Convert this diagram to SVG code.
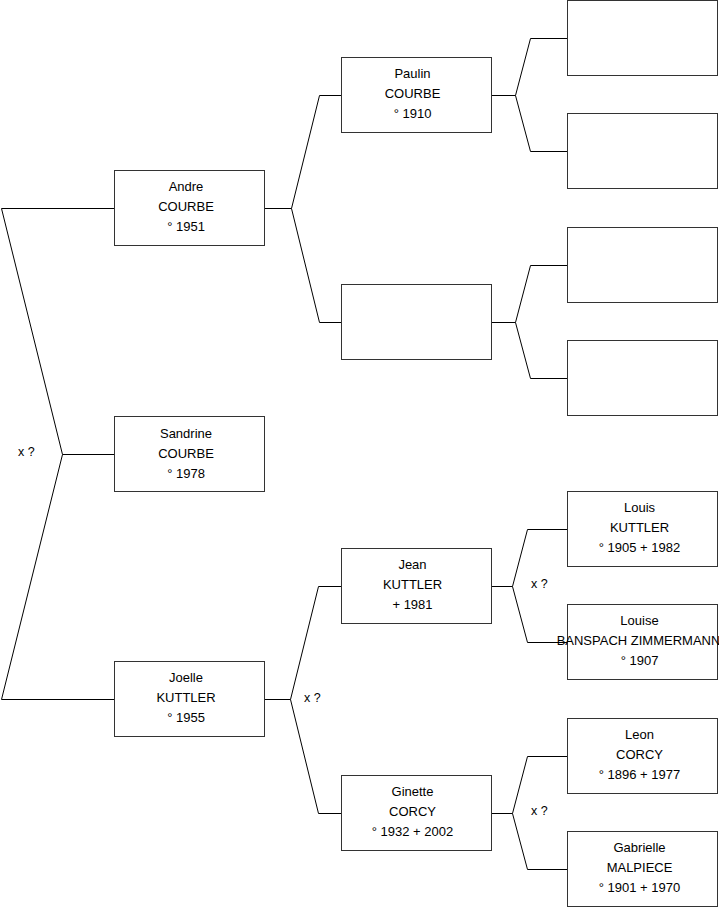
<svg xmlns="http://www.w3.org/2000/svg" width="719" height="908" viewBox="0 0 719 908">
<style>
.box{fill:#fff;stroke:#333;stroke-width:1}
.ln{fill:none;stroke:#000;stroke-width:1}
text{font-family:"Liberation Sans",Arial,sans-serif;font-size:13px;fill:#000;text-anchor:middle}
.lbl{text-anchor:start;font-size:12.5px}
</style>
<rect width="719" height="908" fill="#fff"/>
<g id="connectors">
<polyline class="ln" points="114,208.5 1.5,208.5 62.5,454.5 1.5,699.5 114,699.5"/>
<line class="ln" x1="62.5" y1="454.5" x2="114" y2="454.5"/>
<text class="lbl" x="18" y="456">x ?</text>
<polyline class="ln" points="341,95.5 319.5,95.5 291.5,208.5 319.5,322.5 341,322.5"/>
<line class="ln" x1="265" y1="208.5" x2="291.5" y2="208.5"/>
<polyline class="ln" points="567,38.5 530.5,38.5 515.5,95.5 530.5,151.5 567,151.5"/>
<line class="ln" x1="492" y1="95.5" x2="515.5" y2="95.5"/>
<polyline class="ln" points="567,265.5 530.5,265.5 515.5,322.5 530.5,378.5 567,378.5"/>
<line class="ln" x1="492" y1="322.5" x2="515.5" y2="322.5"/>
<polyline class="ln" points="341,586.5 318.5,586.5 290.5,699.5 318.5,813.5 341,813.5"/>
<line class="ln" x1="265" y1="699.5" x2="290.5" y2="699.5"/>
<text class="lbl" x="304" y="702">x ?</text>
<polyline class="ln" points="567,529.5 527.5,529.5 512.5,586.5 527.5,642.5 567,642.5"/>
<line class="ln" x1="492" y1="586.5" x2="512.5" y2="586.5"/>
<text class="lbl" x="531" y="588">x ?</text>
<polyline class="ln" points="567,756.5 527.5,756.5 512.5,813.5 527.5,869.5 567,869.5"/>
<line class="ln" x1="492" y1="813.5" x2="512.5" y2="813.5"/>
<text class="lbl" x="531" y="815">x ?</text>
</g>
<g id="andre"><rect class="box" x="114.5" y="170.5" width="150" height="75"/><text x="186" y="191">Andre</text><text x="186" y="211">COURBE</text><text x="186" y="231">° 1951</text></g>
<g id="sandrine"><rect class="box" x="114.5" y="416.5" width="150" height="75"/><text x="186" y="438">Sandrine</text><text x="186" y="458">COURBE</text><text x="186" y="478">° 1978</text></g>
<g id="joelle"><rect class="box" x="114.5" y="661.5" width="150" height="75"/><text x="186" y="682">Joelle</text><text x="186" y="702">KUTTLER</text><text x="186" y="722">° 1955</text></g>
<g id="paulin"><rect class="box" x="341.5" y="57.5" width="150" height="75"/><text x="412.5" y="78">Paulin</text><text x="412.5" y="98">COURBE</text><text x="412.5" y="118">° 1910</text></g>
<g id="unknown-mother-andre"><rect class="box" x="341.5" y="284.5" width="150" height="75"/></g>
<g id="jean"><rect class="box" x="341.5" y="548.5" width="150" height="75"/><text x="412.5" y="569">Jean</text><text x="412.5" y="589">KUTTLER</text><text x="412.5" y="609">+ 1981</text></g>
<g id="ginette"><rect class="box" x="341.5" y="775.5" width="150" height="75"/><text x="412.5" y="796">Ginette</text><text x="412.5" y="816">CORCY</text><text x="412.5" y="836">° 1932 + 2002</text></g>
<g id="empty1"><rect class="box" x="567.5" y="0.5" width="150" height="75"/></g>
<g id="empty2"><rect class="box" x="567.5" y="113.5" width="150" height="75"/></g>
<g id="empty3"><rect class="box" x="567.5" y="227.5" width="150" height="75"/></g>
<g id="empty4"><rect class="box" x="567.5" y="340.5" width="150" height="75"/></g>
<g id="louis"><rect class="box" x="567.5" y="491.5" width="150" height="75"/><text x="639.5" y="512">Louis</text><text x="639.5" y="532">KUTTLER</text><text x="639.5" y="552">° 1905 + 1982</text></g>
<g id="louise"><rect class="box" x="567.5" y="604.5" width="150" height="75"/><text x="639.5" y="625">Louise</text><text x="638.5" y="645">BANSPACH ZIMMERMANN</text><text x="639.5" y="665">° 1907</text></g>
<g id="leon"><rect class="box" x="567.5" y="718.5" width="150" height="75"/><text x="639.5" y="739">Leon</text><text x="639.5" y="759">CORCY</text><text x="639.5" y="779">° 1896 + 1977</text></g>
<g id="gabrielle"><rect class="box" x="567.5" y="831.5" width="150" height="75"/><text x="639.5" y="852">Gabrielle</text><text x="639.5" y="872">MALPIECE</text><text x="639.5" y="892">° 1901 + 1970</text></g>
</svg>
